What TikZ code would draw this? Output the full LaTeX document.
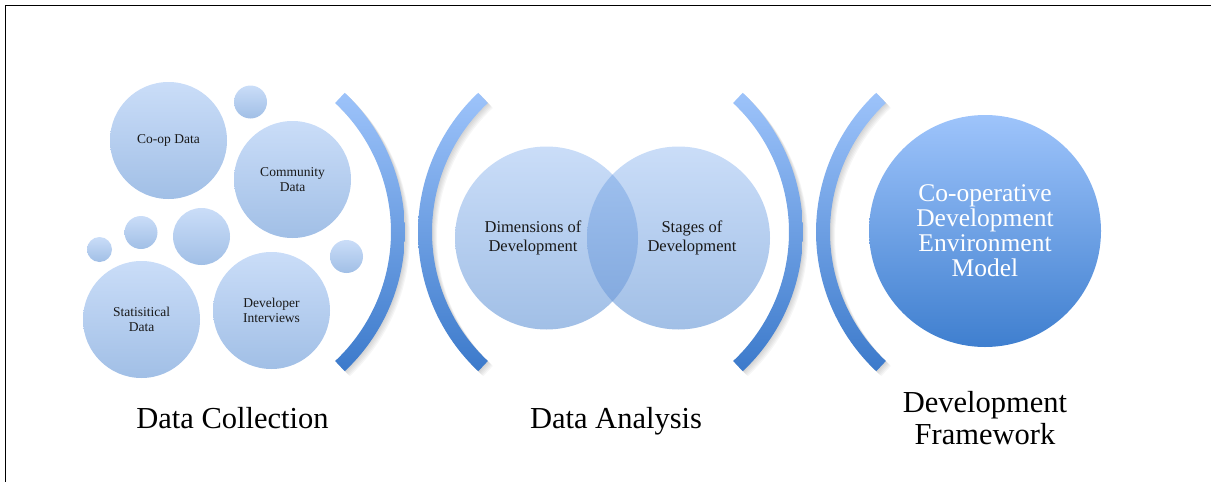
\documentclass[tikz,border=0pt]{standalone}
\usepackage{fontspec}
\setmainfont{Liberation Serif}
\definecolor{bubtop}{HTML}{CADDF8}
\definecolor{bubbot}{HTML}{A1BFE6}
\definecolor{ovtop}{HTML}{A2C3F0}
\definecolor{ovbot}{HTML}{7FA6DC}
\definecolor{bigtop}{HTML}{9EC4FB}
\definecolor{bigbot}{HTML}{3F7FCF}
\definecolor{brktop}{HTML}{9DC3FA}
\definecolor{brkbot}{HTML}{3C7ACB}
\begin{document}
\begin{tikzpicture}[x=1pt,y=-1pt,
  bub/.style={circle, inner sep=0pt, top color=bubtop, bottom color=bubbot, align=center, text=black!90},
  smallt/.style={font=\fontsize{13.5}{15}\selectfont},
  venn/.style={font=\fontsize{16.5}{18.5}\selectfont},
  big/.style={circle, inner sep=0pt, top color=bigtop, bottom color=bigbot, align=center, text=white, font=\fontsize{25.5}{25}\selectfont},
  lab/.style={align=center, font=\fontsize{30.5}{32}\selectfont},
  brk/.style={top color=brktop, bottom color=brkbot},
  shd/.style={fill=black, fill opacity=0.035}]
\useasboundingbox (0,0) rectangle (1211,482);
\draw[line width=1.3pt] (5.5,482) -- (5.5,5.5) -- (1211,5.5);

% data collection bubbles
\node[bub, smallt, minimum size=117pt] (coop) at (168.5,140.5) {Co-op Data};
\node[bub, minimum size=33pt] (s1) at (250.5,102) {};
\node[bub, smallt, minimum size=117pt] (comm) at (292.5,179.5) {Community\\Data};
\node[bub, minimum size=25pt] (s2) at (99.5,249.5) {};
\node[bub, minimum size=33pt] (s3) at (141,232.5) {};
\node[bub, minimum size=57pt] (s4) at (201.5,236.5) {};
\node[bub, minimum size=33pt] (s5) at (346.5,256.5) {};
\node[bub, smallt, minimum size=117pt] (stat) at (141.5,319.5) {Statisitical\\Data};
\node[bub, smallt, minimum size=117pt] (dev) at (271.5,310.5) {Developer\\Interviews};

% brackets: soft shadows
\foreach \d in {1,2,3,4,5}{
  \fill[shd] plot[domain=-46.8:46.8,samples=50] ({214+\d+191*cos(\x)},{232+\d+191*sin(\x)}) -- plot[domain=46.8:-46.8,samples=50] ({214+\d+177*cos(\x)},{232+\d+177*sin(\x)}) -- cycle;
  \fill[shd] plot[domain=-46.8:46.8,samples=50] ({609+\d-191*cos(\x)},{232+\d+191*sin(\x)}) -- plot[domain=46.8:-46.8,samples=50] ({609+\d-177*cos(\x)},{232+\d+177*sin(\x)}) -- cycle;
  \fill[shd] plot[domain=-46.8:46.8,samples=50] ({612+\d+191*cos(\x)},{232+\d+191*sin(\x)}) -- plot[domain=46.8:-46.8,samples=50] ({612+\d+177*cos(\x)},{232+\d+177*sin(\x)}) -- cycle;
  \fill[shd] plot[domain=-46.8:46.8,samples=50] ({1007+\d-191*cos(\x)},{232+\d+191*sin(\x)}) -- plot[domain=46.8:-46.8,samples=50] ({1007+\d-177*cos(\x)},{232+\d+177*sin(\x)}) -- cycle;
}
% brackets
\path[brk] plot[domain=-46.8:46.8,samples=50] ({214+191*cos(\x)},{232+191*sin(\x)}) -- plot[domain=46.8:-46.8,samples=50] ({214+177*cos(\x)},{232+177*sin(\x)}) -- cycle;
\path[brk] plot[domain=-46.8:46.8,samples=50] ({609-191*cos(\x)},{232+191*sin(\x)}) -- plot[domain=46.8:-46.8,samples=50] ({609-177*cos(\x)},{232+177*sin(\x)}) -- cycle;
\path[brk] plot[domain=-46.8:46.8,samples=50] ({612+191*cos(\x)},{232+191*sin(\x)}) -- plot[domain=46.8:-46.8,samples=50] ({612+177*cos(\x)},{232+177*sin(\x)}) -- cycle;
\path[brk] plot[domain=-46.8:46.8,samples=50] ({1007-191*cos(\x)},{232+191*sin(\x)}) -- plot[domain=46.8:-46.8,samples=50] ({1007-177*cos(\x)},{232+177*sin(\x)}) -- cycle;

% venn
\node[bub, minimum size=183pt] (dim) at (546.5,238) {};
\node[bub, minimum size=183pt] (stg) at (678.5,238) {};
\begin{scope}
  \clip (dim.center) circle[radius=91.5pt];
  \path[top color=ovtop, bottom color=ovbot] (stg.center) circle[radius=91.5pt];
\end{scope}
\node[venn, align=center, text=black!90] (dimt) at (533,238) {Dimensions of\\Development};
\node[venn, align=center, text=black!90] (stgt) at (692,238) {Stages of\\Development};

% big circle
\node[big, minimum size=232pt] (model) at (985,231) {Co-operative\\Development\\Environment\\Model};

% labels
\node[lab, anchor=base] (l1) at (232.5,428) {Data Collection};
\node[lab, anchor=base] (l2) at (616,428) {Data Analysis};
\node[lab] (l3) at (985,418) {Development\\Framework};
\end{tikzpicture}
\end{document}
